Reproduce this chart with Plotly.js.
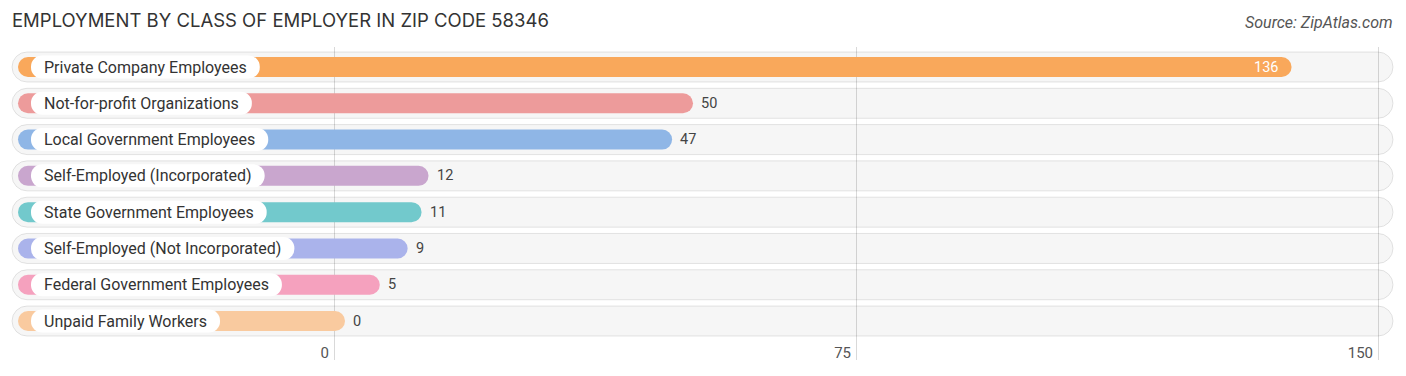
<!DOCTYPE html>
<html>
<head>
<meta charset="utf-8">
<script src="https://cdn.plot.ly/plotly-3.0.1.min.js"></script>
<style>
html,body{margin:0;padding:0;background:#fff;}
#chart{width:1406px;height:376px;}
</style>
</head>
<body>
<div id="chart"></div>
<script>
// ---- data ----
const categories = [
  "Private Company Employees",
  "Not-for-profit Organizations",
  "Local Government Employees",
  "Self-Employed (Incorporated)",
  "State Government Employees",
  "Self-Employed (Not Incorporated)",
  "Federal Government Employees",
  "Unpaid Family Workers"
];
const values = [136, 50, 47, 12, 11, 9, 5, 0];
const barColors = ["#F9A85B", "#ED9B9B", "#8FB6E6", "#C9A6CE", "#72C9CC", "#AAB3EB", "#F5A1BE", "#F9CA9F"];
const tickVals = [0, 75, 150];
const tickText = ["0", "75", "150"];

// ---- layout constants (pixels) ----
const W = 1406, H = 376;
const X0PX = 334, X150PX = 1378;
const ppu = (X150PX - X0PX) / 150;           // pixels per unit
const xRange = [-X0PX / ppu, (W - X0PX) / ppu];
const toUnit = px => (px - X0PX) / ppu;        // page px -> data units
const ROW0 = 67, ROWSTEP = 36.29, PLOT_TOP = 47, PLOT_BOT = 360;
const yRange = [(PLOT_BOT - ROW0) / ROWSTEP, (PLOT_TOP - ROW0) / ROWSTEP];

const idx = categories.map((_, i) => i);
const LABEL_FONT = "Roboto, 'Open Sans', sans-serif";
const LABEL_SIZE = 16;

// measure label widths for the pill sizes
const cv = document.createElement("canvas").getContext("2d");
cv.font = LABEL_SIZE + "px Roboto";
const pillPad = 13;
const pillLen = categories.map(c => (cv.measureText(c).width + 2 * pillPad) / ppu);

const bgBase = toUnit(12), bgEnd = toUnit(1393);
const barBase = toUnit(18);
const pillBase = toUnit(31);
const capUnits = 11 / ppu;

const traces = [
  { // background tracks
    type: "bar", orientation: "h", y: idx,
    x: idx.map(() => bgEnd - bgBase), base: bgBase,
    width: 30 / ROWSTEP,
    marker: { color: "rgba(0,0,0,0.035)", line: { color: "rgba(0,0,0,0.10)", width: 1 }, cornerradius: 15 },
    hoverinfo: "skip", showlegend: false
  },
  { // value bars
    type: "bar", orientation: "h", y: idx,
    x: values.map(v => v - barBase + capUnits), base: barBase,
    width: 20 / ROWSTEP,
    marker: { color: barColors, cornerradius: 10 },
    hoverinfo: "skip", showlegend: false
  },
  { // label pills
    type: "bar", orientation: "h", y: idx,
    x: pillLen, base: pillBase,
    width: 23 / ROWSTEP,
    marker: { color: "#ffffff", cornerradius: 11.5 },
    hoverinfo: "skip", showlegend: false
  }
];

const maxV = Math.max(...values);
const annotations = [];
categories.forEach((c, i) => {
  annotations.push({
    x: pillBase + (pillPad - 2) / ppu, y: i, xref: "x", yref: "y",
    text: c, showarrow: false, xanchor: "left", yanchor: "middle",
    font: { family: LABEL_FONT, size: LABEL_SIZE, color: "#333333" }
  });
  const inside = values[i] / maxV > 0.5;
  annotations.push({
    x: values[i], y: i, xref: "x", yref: "y",
    text: String(values[i]), showarrow: false,
    xanchor: inside ? "right" : "left",
    xshift: inside ? -1 : 17,
    yanchor: "middle",
    font: { family: LABEL_FONT, size: 14.5, color: inside ? "#ffffff" : "#444444" }
  });
});
annotations.push({
  xref: "paper", yref: "paper", x: 1395 / W, y: (PLOT_BOT - 23) / (PLOT_BOT - PLOT_TOP),
  xanchor: "right", yanchor: "middle", showarrow: false,
  text: "<i>Source: ZipAtlas.com</i>",
  font: { family: LABEL_FONT, size: 16, color: "#555555" }
});

const layout = {
  width: W, height: H,
  margin: { l: 0, r: 0, t: PLOT_TOP, b: H - PLOT_BOT, pad: 0 },
  paper_bgcolor: "#ffffff", plot_bgcolor: "#ffffff",
  barmode: "overlay",
  title: {
    text: "EMPLOYMENT BY CLASS OF EMPLOYER IN ZIP CODE 58346",
    x: 12 / W, xanchor: "left", xref: "paper",
    y: 1 - 21 / H, yanchor: "middle", yref: "container",
    font: { family: "Inter, Roboto, sans-serif", size: 18.5, color: "#333333" }
  },
  xaxis: {
    range: xRange, fixedrange: true,
    tickvals: tickVals, ticktext: tickText,
    ticklabelposition: "inside left",
    ticklabelstandoff: -7,
    ticklabelshift: -5,
    showgrid: true, gridcolor: "#d9d9d9", gridwidth: 1,
    zeroline: false, showline: false, ticks: "",
    tickfont: { family: LABEL_FONT, size: 15, color: "#555555" }
  },
  yaxis: {
    range: yRange, fixedrange: true,
    showgrid: false, zeroline: false, showticklabels: false, showline: false, ticks: ""
  },
  annotations: annotations,
  showlegend: false
};

Plotly.newPlot("chart", traces, layout, { displayModeBar: false, staticPlot: true });
</script>
</body>
</html>
